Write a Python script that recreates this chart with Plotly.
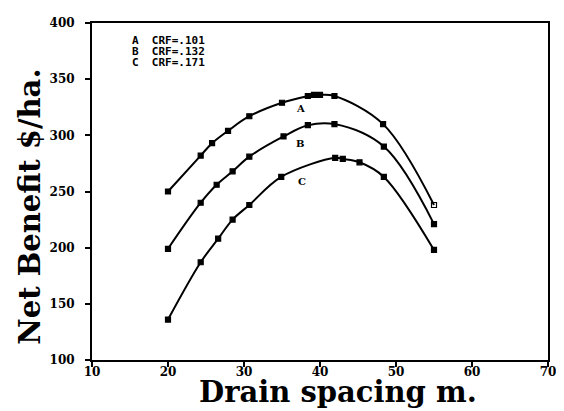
import plotly.graph_objects as go

# Drain spacing (m) and net benefit ($/ha) for three CRF values
A_x = [20, 24.3, 25.8, 27.9, 30.7, 35.0, 38.4, 39.2, 40.0, 41.9, 48.3, 55]
A_y = [250, 282, 293, 304, 317, 329, 335, 336, 336, 335, 310, 238]
B_x = [20, 24.3, 26.4, 28.5, 30.7, 35.2, 38.4, 41.9, 48.4, 55]
B_y = [199, 240, 256, 268, 281, 299, 309, 310, 290, 221]
C_x = [20, 24.3, 26.6, 28.5, 30.7, 34.9, 42.0, 43.0, 45.2, 48.4, 55]
C_y = [136, 187, 208, 225, 238, 263, 280, 279, 276, 263, 198]

series_names = ["A", "B", "C"]
legend_lines = ["A  CRF=.101", "B  CRF=.132", "C  CRF=.171"]
x_ticks = [10, 20, 30, 40, 50, 60, 70]
y_ticks = [100, 150, 200, 250, 300, 350, 400]

fig = go.Figure()
for name, xs, ys in [("A", A_x, A_y), ("B", B_x, B_y), ("C", C_x, C_y)]:
    symbols = ["square"] * len(xs)
    if name == "A":
        symbols[-1] = "square-open"
    fig.add_trace(go.Scatter(
        x=xs, y=ys, mode="lines+markers", name=name,
        line=dict(color="black", width=2, shape="spline", smoothing=1.0),
        marker=dict(symbol=symbols, size=5, color="black",
                    line=dict(color="black", width=1.2)),
        showlegend=False,
    ))

# curve labels
lab_pos = {"A": (37.4, 324), "B": (37.4, 293), "C": (37.6, 259)}
for n in series_names:
    fig.add_annotation(x=lab_pos[n][0], y=lab_pos[n][1], text=n, showarrow=False,
                       font=dict(family="DejaVu Serif", size=10, color="black", weight="bold"))

# legend text block
for i, t in enumerate(legend_lines):
    fig.add_annotation(x=15.0, y=384 - i * 9.5, text=t, showarrow=False, xanchor="left",
                       font=dict(family="DejaVu Sans Mono", size=11, color="black", weight="bold"))

# axis titles
fig.add_annotation(xref="paper", yref="paper", x=0.539, y=-0.094, xanchor="center", yanchor="middle",
                   text="Drain spacing m.", showarrow=False,
                   font=dict(family="DejaVu Serif", size=29, color="black", weight="bold"))
fig.add_annotation(xref="paper", yref="paper", x=-0.135, y=0.456, xanchor="center", yanchor="middle",
                   text="Net Benefit $/ha.", textangle=-90, showarrow=False,
                   font=dict(family="DejaVu Serif", size=29, color="black", weight="bold"))

axis_common = dict(showgrid=False, zeroline=False, showline=True, linecolor="black", linewidth=2,
                   mirror=True, tickcolor="black",
                   tickfont=dict(family="DejaVu Serif", size=12, color="black", weight="bold"))
# x: labels set tight under the axis, tick marks drawn as minor ticks at the same values
fig.update_xaxes(range=[10, 70], tickvals=x_ticks, ticktext=[str(v) for v in x_ticks],
                 ticks="", minor=dict(tickmode="array", tickvals=x_ticks, ticks="outside",
                                      ticklen=5, tickwidth=1.5, tickcolor="black", showgrid=False),
                 **axis_common)
fig.update_yaxes(range=[100, 400], tickvals=y_ticks, ticktext=[str(v) for v in y_ticks],
                 ticks="outside", ticklen=5, tickwidth=1.5, ticklabelstandoff=8, **axis_common)

# page body has an 8px margin; figure spans the rest of the 564x411 window
fig.update_layout(width=556, height=403, margin=dict(l=84, r=12, t=8, b=51),
                  plot_bgcolor="white", paper_bgcolor="white")
fig.write_html("out.html")
